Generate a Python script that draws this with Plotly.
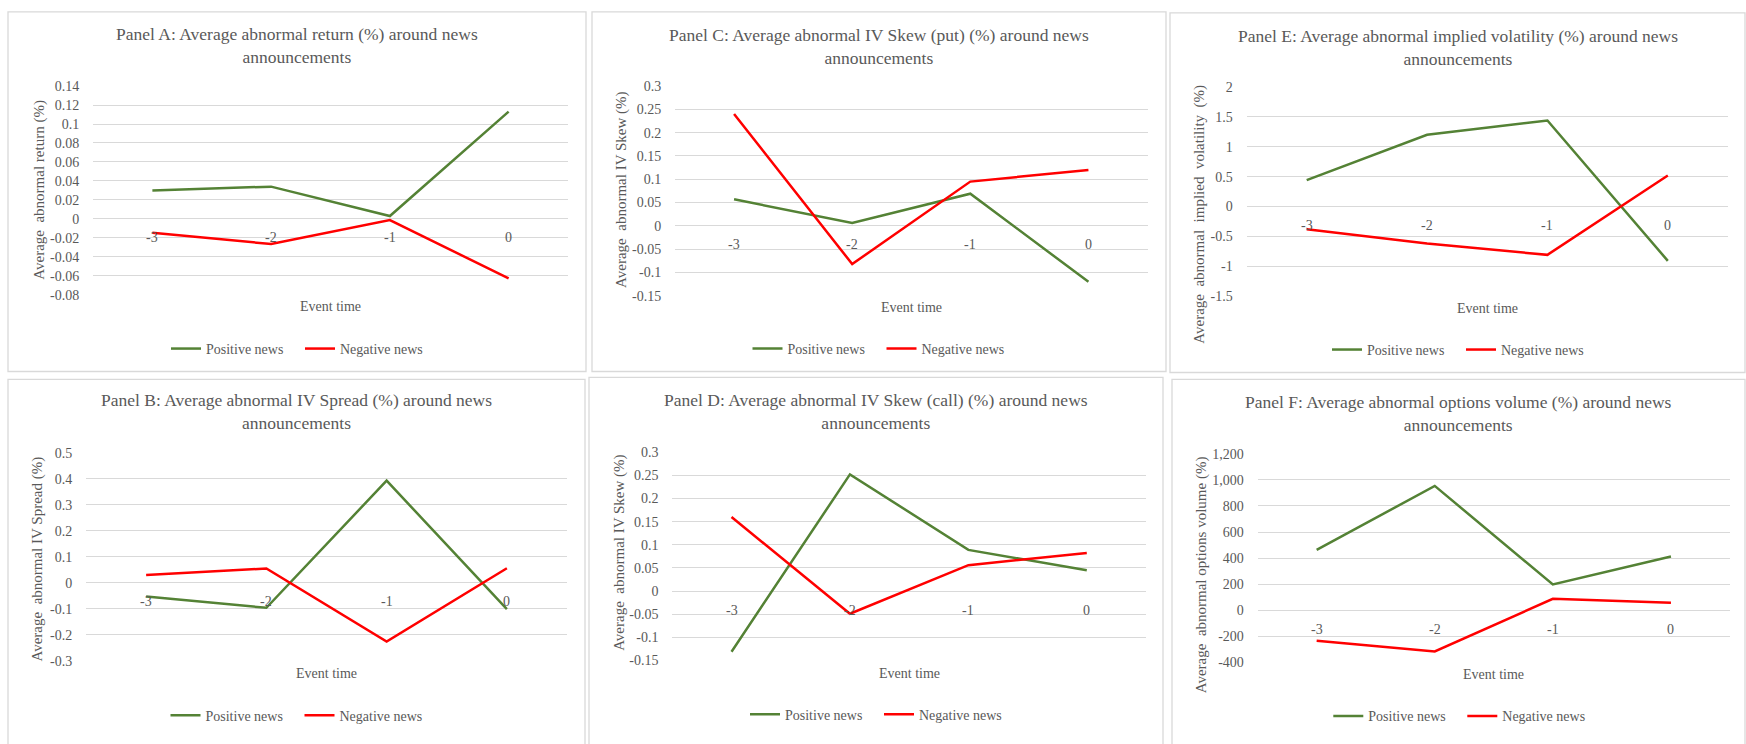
import plotly.graph_objects as go

# ---------------- data ----------------
event_time = [-3, -2, -1, 0]
series_names = ["Positive news", "Negative news"]

# Panel A: abnormal return (%)
ret_pos = [0.030, 0.034, 0.003, 0.113]
ret_neg = [-0.0145, -0.0265, -0.0013, -0.0627]
ret_ticks = [-0.08, -0.06, -0.04, -0.02, 0, 0.02, 0.04, 0.06, 0.08, 0.1, 0.12, 0.14]

# Panel B: IV spread (%)
spread_pos = [-0.053, -0.096, 0.393, -0.101]
spread_neg = [0.030, 0.055, -0.226, 0.056]
spread_ticks = [-0.3, -0.2, -0.1, 0, 0.1, 0.2, 0.3, 0.4, 0.5]

# Panel C: IV skew, puts (%)
skew_put_pos = [0.057, 0.006, 0.069, -0.120]
skew_put_neg = [0.240, -0.082, 0.095, 0.120]
skew_ticks = [-0.15, -0.1, -0.05, 0, 0.05, 0.1, 0.15, 0.2, 0.25, 0.3]

# Panel D: IV skew, calls (%)
skew_call_pos = [-0.131, 0.252, 0.089, 0.045]
skew_call_neg = [0.160, -0.049, 0.056, 0.082]

# Panel E: implied volatility (%)
iv_pos = [0.44, 1.20, 1.44, -0.91]
iv_neg = [-0.38, -0.62, -0.81, 0.52]
iv_ticks = [-1.5, -1, -0.5, 0, 0.5, 1, 1.5, 2]

# Panel F: options volume (%)
vol_pos = [463, 954, 198, 413]
vol_neg = [-233, -315, 88, 58]
vol_ticks = [-400, -200, 0, 200, 400, 600, 800, 1000, 1200]

# ---------------- styling / layout ----------------
W, H = 1746, 744
FONT = "Liberation Serif, Times New Roman, serif"
TEXT = "#595959"
GRID = "#d9d9d9"
GREEN = "#548235"
RED = "#ff0000"

def fx(px):
    return px / W

def fy(py):
    return 1 - py / H

# Each panel: frame box, plot box (left, top, right, bottom) in pixels,
# title centre, y-title centre, "Event time" row, legend centre.
panels = [
    dict(title="Panel A: Average abnormal return (%) around news<br>announcements",
         ytitle="Average  abnormal return (%)",
         pos=ret_pos, neg=ret_neg, ticks=ret_ticks, fmt="{:g}",
         frame=(8, 5, 586, 372), plot=(93, 80.7, 568, 293.7),
         tpos=(297, 39.5), ypos=(39.5, 187), evt=306, leg=(300, 349)),
    dict(title="Panel C: Average abnormal IV Skew (put) (%) around news<br>announcements",
         ytitle="Average  abnormal IV Skew (%)",
         pos=skew_put_pos, neg=skew_put_neg, ticks=skew_ticks, fmt="{:g}",
         frame=(592, 5, 1166, 372), plot=(675, 80.7, 1147.5, 294.7),
         tpos=(879, 40.8), ypos=(621.5, 187.2), evt=307, leg=(881.5, 349)),
    dict(title="Panel E: Average abnormal implied volatility (%) around news<br>announcements",
         ytitle="Average  abnormal  implied\u00a0 volatility\u00a0 (%)",
         pos=iv_pos, neg=iv_neg, ticks=iv_ticks, fmt="{:g}",
         frame=(1170, 6, 1745, 373), plot=(1246.5, 81.7, 1728, 295),
         tpos=(1457.5, 41.2), ypos=(1200, 212), evt=307.7, leg=(1461, 350)),
    dict(title="Panel B: Average abnormal IV Spread (%) around news<br>announcements",
         ytitle="Average  abnormal IV Spread (%)",
         pos=spread_pos, neg=spread_neg, ticks=spread_ticks, fmt="{:g}",
         frame=(8, 380, 585, 760), plot=(86, 455, 567, 667.3),
         tpos=(296, 413), ypos=(37.6, 563.3), evt=680.7, leg=(299.5, 723.3)),
    dict(title="Panel D: Average abnormal IV Skew (call) (%) around news<br>announcements",
         ytitle="Average  abnormal IV Skew (%)",
         pos=skew_call_pos, neg=skew_call_neg, ticks=skew_ticks, fmt="{:g}",
         frame=(589, 378, 1163, 760), plot=(672.3, 454.3, 1146, 667),
         tpos=(876, 413), ypos=(619.6, 557.5), evt=680, leg=(879, 722.3)),
    dict(title="Panel F: Average abnormal options volume (%) around news<br>announcements",
         ytitle="Average  abnormal options volume (%)",
         pos=vol_pos, neg=vol_neg, ticks=vol_ticks, fmt="{:,}",
         frame=(1172, 380, 1745, 760), plot=(1257.6, 456, 1730, 669),
         tpos=(1458.6, 414.7), ypos=(1201, 580), evt=681.7, leg=(1462.3, 724)),
]

fig = go.Figure()
annotations = []
shapes = []
layout = dict(
    width=W, height=H,
    margin=dict(l=0, r=0, t=0, b=0),
    paper_bgcolor="white", plot_bgcolor="white",
    font=dict(family=FONT, color=TEXT, size=14),
)

for i, p in enumerate(panels, start=1):
    sfx = "" if i == 1 else str(i)
    xa, ya = "x" + sfx, "y" + sfx
    leg = "legend" + sfx
    l, t, r, b = p["plot"]

    for name, vals, color in zip(series_names, (p["pos"], p["neg"]), (GREEN, RED)):
        fig.add_trace(go.Scatter(
            x=event_time, y=vals, name=name, mode="lines",
            line=dict(color=color, width=2.5),
            xaxis=xa, yaxis=ya, legend=leg, showlegend=True,
        ))

    ticks = p["ticks"]
    layout["xaxis" + sfx] = dict(
        domain=[fx(l), fx(r)], anchor=ya, range=[-3.5, 0.5],
        showgrid=False, zeroline=False, showline=False,
        showticklabels=False, ticks="",
    )
    layout["yaxis" + sfx] = dict(
        domain=[fy(b), fy(t)], anchor=xa, range=[ticks[0], ticks[-1]],
        tickmode="array", tickvals=ticks,
        ticktext=[p["fmt"].format(v) for v in ticks],
        showgrid=True, gridcolor=GRID, gridwidth=1.2,
        zeroline=False, showline=False,
        ticks="outside", ticklen=10, tickcolor="rgba(0,0,0,0)",
        tickfont=dict(family=FONT, size=14, color=TEXT),
    )
    layout[leg] = dict(
        orientation="h", x=fx(p["leg"][0]), y=fy(p["leg"][1]),
        xanchor="center", yanchor="middle",
        bgcolor="rgba(0,0,0,0)", borderwidth=0,
        font=dict(family=FONT, size=14, color=TEXT),
        entrywidth=89, entrywidthmode="pixels",
    )

    # category labels sit just under the zero line
    for c in event_time:
        annotations.append(dict(
            x=c, y=0, xref=xa, yref=ya, text=str(c), showarrow=False,
            yanchor="middle", yshift=-19,
            font=dict(family=FONT, size=14, color=TEXT),
        ))

    annotations.append(dict(
        x=fx(p["tpos"][0]), y=fy(p["tpos"][1]), xref="paper", yref="paper",
        text=p["title"], showarrow=False, xanchor="center", yanchor="middle",
        font=dict(family=FONT, size=17.5, color=TEXT),
    ))
    annotations.append(dict(
        x=fx(p["ypos"][0]), y=fy(p["ypos"][1]), xref="paper", yref="paper",
        text=p["ytitle"], textangle=-90, showarrow=False,
        xanchor="center", yanchor="middle",
        font=dict(family=FONT, size=15, color=TEXT),
    ))
    annotations.append(dict(
        x=fx((l + r) / 2), y=fy(p["evt"]), xref="paper", yref="paper",
        text="Event time", showarrow=False, xanchor="center", yanchor="middle",
        font=dict(family=FONT, size=14, color=TEXT),
    ))

    x0, y0, x1, y1 = p["frame"]
    shapes.append(dict(
        type="rect", xref="paper", yref="paper",
        x0=fx(x0), x1=fx(x1), y0=fy(y1), y1=fy(y0),
        line=dict(color=GRID, width=1.3), fillcolor="rgba(0,0,0,0)",
        layer="below",
    ))

layout["annotations"] = annotations
layout["shapes"] = shapes
fig.update_layout(**layout)

fig.write_html("out.html")
